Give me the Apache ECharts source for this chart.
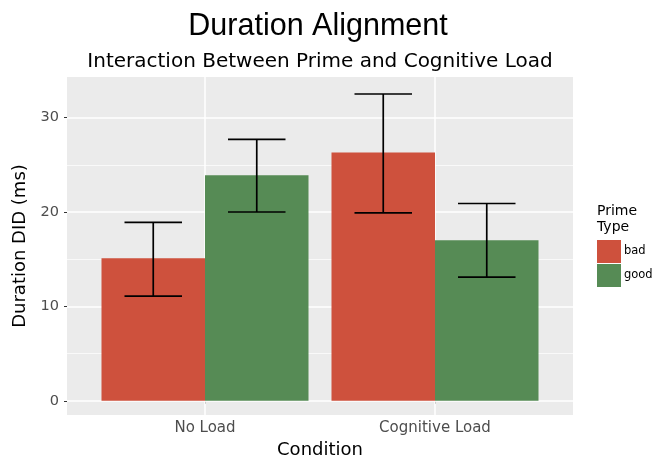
<!DOCTYPE html>
<html>
<head>
<meta charset="utf-8">
<script src="https://cdn.jsdelivr.net/npm/echarts@6/dist/echarts.min.js"></script>
<style>
  html, body { margin: 0; padding: 0; background: #fff; }
  #chart { width: 658px; height: 459px; }
</style>
</head>
<body>
<div id="chart"></div>
<script>
// values
const categories = ['No Load', 'Cognitive Load']
const badMeans = [15.1, 26.3]
const badLow = [11.1, 19.9]
const badHigh = [18.9, 32.5]
const goodMeans = [23.9, 17.0]
const goodLow = [20.0, 13.1]
const goodHigh = [27.7, 20.9]
const yTicks = [0, 10, 20, 30]
const yMinor = [5, 15, 25]
const xTicks = [1, 2]

const font = 'DejaVu Sans, sans-serif'
const titleFont = 'Liberation Sans, Helvetica, Arial, sans-serif'
const BAR_W = 0.45   // dodge width per bar, in category units
const CAP_W = 0.25

// side -1 = left bar of the pair, +1 = right bar
function barRender (side) {
  return (params, api) => {
    const cat = api.value(0)
    const v = api.value(1)
    const lo = api.value(2)
    const hi = api.value(3)
    const x0 = side < 0 ? cat - BAR_W : cat
    const cx = x0 + BAR_W / 2
    const tl = api.coord([x0, v])
    const br = api.coord([x0 + BAR_W, 0])
    const pLo = api.coord([cx, lo])
    const pHi = api.coord([cx, hi])
    const capL = api.coord([cx - CAP_W / 2, lo])[0]
    const capR = api.coord([cx + CAP_W / 2, lo])[0]
    const errStyle = { stroke: '#000', lineWidth: 1.7 }
    return {
      type: 'group',
      children: [
        {
          type: 'rect',
          shape: { x: tl[0], y: tl[1], width: br[0] - tl[0], height: br[1] - tl[1] },
          style: { fill: api.visual('color') }
        },
        { type: 'line', shape: { x1: pLo[0], y1: pLo[1], x2: pHi[0], y2: pHi[1] }, style: errStyle },
        { type: 'line', shape: { x1: capL, y1: pLo[1], x2: capR, y2: pLo[1] }, style: errStyle },
        { type: 'line', shape: { x1: capL, y1: pHi[1], x2: capR, y2: pHi[1] }, style: errStyle }
      ]
    }
  }
}

const gridLines = []
yTicks.forEach(v => gridLines.push({ yAxis: v, lineStyle: { color: '#fff', width: 1.5, type: 'solid' } }))
yMinor.forEach(v => gridLines.push({ yAxis: v, lineStyle: { color: '#fff', width: 0.7, type: 'solid' } }))
xTicks.forEach(v => gridLines.push({ xAxis: v, lineStyle: { color: '#fff', width: 1.5, type: 'solid' } }))

const chart = echarts.init(document.getElementById('chart'), null, { renderer: 'canvas' })
const option = {
  backgroundColor: '#fff',
  animation: false,
  textStyle: { fontFamily: font },
  grid: {
    left: 67,
    right: 85,
    top: 77,
    bottom: 44,
    containLabel: false,
    outerBoundsMode: 'none',
    show: true,
    z: 0,
    backgroundColor: '#EBEBEB',
    borderWidth: 0
  },
  graphic: [
    {
      type: 'text',
      x: 318,
      y: 27,
      style: { text: 'Duration Alignment', fontSize: 30.5, fill: '#000', fontFamily: titleFont, align: 'center', verticalAlign: 'middle' }
    },
    {
      type: 'text',
      x: 320,
      y: 62,
      style: { text: 'Interaction Between Prime and Cognitive Load', fontSize: 20, fill: '#000', fontFamily: font, align: 'center', verticalAlign: 'middle' }
    },
    {
      type: 'text',
      left: 597,
      top: 203,
      style: { text: 'Prime\nType', fontSize: 14, lineHeight: 16, fill: '#000', fontFamily: font }
    }
  ],
  legend: {
    orient: 'vertical',
    left: 597,
    top: 240,
    padding: 0,
    itemWidth: 24,
    itemHeight: 23,
    itemGap: 1,
    icon: 'rect',
    selectedMode: false,
    data: ['bad', 'good'],
    textStyle: { fontSize: 11.5, color: '#000', fontFamily: font, padding: [0, 0, 0, -2] }
  },
  xAxis: {
    type: 'value',
    min: 0.4,
    max: 2.6,
    name: 'Condition',
    nameLocation: 'middle',
    nameGap: 25,
    nameTextStyle: { fontSize: 18, color: '#000', fontFamily: font },
    axisLine: { show: false },
    axisTick: { show: true, length: 3, customValues: xTicks, lineStyle: { color: '#333', width: 1 } },
    axisLabel: {
      customValues: xTicks,
      margin: 6,
      fontSize: 15,
      color: '#4D4D4D',
      fontFamily: font,
      formatter: v => categories[Math.round(v) - 1]
    },
    splitLine: { show: false }
  },
  yAxis: {
    type: 'value',
    min: -1.5,
    max: 34.3,
    name: 'Duration DID (ms)',
    nameLocation: 'middle',
    nameGap: 32,
    nameTextStyle: { fontSize: 18, color: '#000', fontFamily: font },
    axisLine: { show: false },
    axisTick: { show: true, length: 3, customValues: yTicks, lineStyle: { color: '#333', width: 1 } },
    axisLabel: { customValues: yTicks, margin: 8, fontSize: 14.5, color: '#4D4D4D', fontFamily: font },
    splitLine: { show: false }
  },
  series: [
    {
      name: 'grid',
      type: 'custom',
      z: 1,
      silent: true,
      data: [],
      renderItem: () => null,
      markLine: {
        z: 1,
        silent: true,
        symbol: 'none',
        animation: false,
        label: { show: false },
        data: gridLines
      }
    },
    {
      name: 'bad',
      type: 'custom',
      z: 3,
      itemStyle: { color: '#CE513D' },
      data: categories.map((c, i) => [i + 1, badMeans[i], badLow[i], badHigh[i]]),
      renderItem: barRender(-1)
    },
    {
      name: 'good',
      type: 'custom',
      z: 3,
      itemStyle: { color: '#568B55' },
      data: categories.map((c, i) => [i + 1, goodMeans[i], goodLow[i], goodHigh[i]]),
      renderItem: barRender(1)
    }
  ]
}
chart.setOption(option)
</script>
</body>
</html>
